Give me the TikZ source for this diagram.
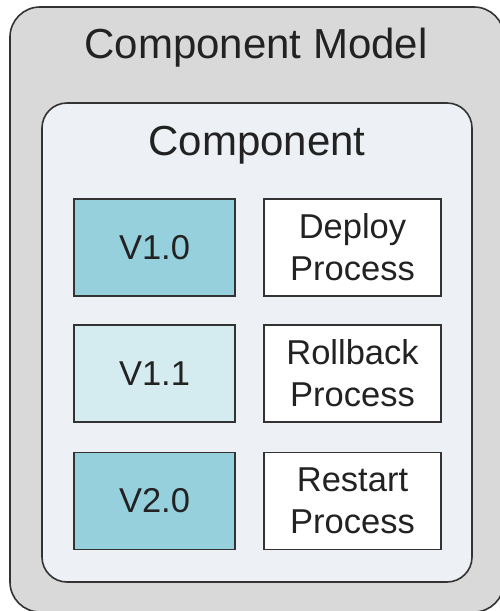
\documentclass[tikz,border=0pt]{standalone}
\usepackage{fontspec}
\setmainfont{Liberation Sans}
\definecolor{outerfill}{HTML}{D9D9D9}
\definecolor{innerfill}{HTML}{EDF0F5}
\definecolor{darkteal}{HTML}{96D0DD}
\definecolor{lightteal}{HTML}{D4ECF0}
\definecolor{edge}{HTML}{333333}
\definecolor{txt}{HTML}{222222}
\begin{document}
\begin{tikzpicture}[x=1pt,y=-1pt,
  frame/.style={draw=edge, line width=1.6pt},
  item/.style={draw=edge, line width=1.8pt, minimum width=161pt, minimum height=97pt, inner sep=0pt,
    text=txt, font=\fontsize{34.5}{42}\selectfont, align=center},
  title/.style={text=txt, font=\fontsize{42}{50}\selectfont, anchor=base, inner sep=0pt}]
\useasboundingbox (0,0) rectangle (500,611);
\begin{scope}
\clip (0,0) rectangle (500,611);
\draw[frame, fill=outerfill, rounded corners=30pt] (10,7) rectangle (504,612);
\end{scope}
\draw[frame, fill=innerfill, rounded corners=25pt] (42,103) rectangle (472,582);
\node[title] (tmodel) at (256,58) {Component Model};
\node[title] (tcomp) at (257,155) {Component};
\node[item, fill=darkteal] (v10) at (154.5,247.5) {V1.0};
\node[item, fill=lightteal] (v11) at (154.5,373.5) {V1.1};
\node[item, fill=darkteal] (v20) at (154.5,501) {V2.0};
\node[item, fill=white, minimum width=177pt] (deploy) at (352.5,247.5) {Deploy\\Process};
\node[item, fill=white, minimum width=177pt] (rollback) at (352.5,373.5) {Rollback\\Process};
\node[item, fill=white, minimum width=177pt] (restart) at (352.5,501) {Restart\\Process};
\end{tikzpicture}
\end{document}
